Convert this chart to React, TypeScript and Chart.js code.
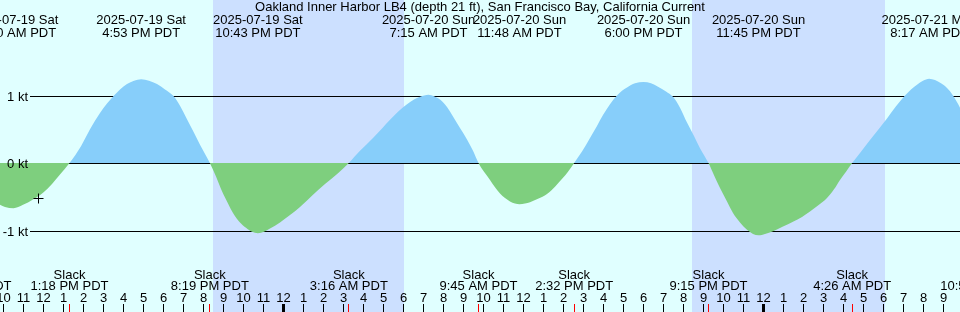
import React, { useEffect, useRef } from "react";
import { Chart, registerables } from "chart.js";

Chart.register(...registerables);

// ---------- data (hours since 2025-07-19 00:00 PDT) ----------
const TITLE =
  "Oakland Inner Harbor LB4 (depth 21 ft), San Francisco Bay, California Current";

const hours = [
  8.45, 9.075, 9.575, 9.825, 10.075, 10.5, 10.975, 11.475, 11.975, 12.425, 12.825,
  13.3, 13.875, 14.325, 14.825, 15.175, 15.525, 15.825, 16.175, 16.525, 16.883,
  17.275, 17.675, 18.075, 18.475, 18.825, 19.175, 19.525, 19.825, 20.317,
  20.625, 20.925, 21.225, 21.475, 21.825, 22.125, 22.425, 22.717, 23.025, 23.325,
  23.825, 24.325, 24.825, 25.475, 26.075, 26.725, 27.267,
  27.825, 28.475, 28.925, 29.325, 29.725, 30.175, 30.525, 30.825, 31.25, 31.525,
  31.825, 32.175, 32.475, 32.825, 33.175, 33.475, 33.75,
  34.025, 34.325, 34.575, 34.825, 35.075, 35.325, 35.575, 35.8, 36.075, 36.325,
  36.725, 37.175, 37.575, 37.975, 38.225, 38.533,
  38.925, 39.325, 39.675, 39.975, 40.325, 40.675, 40.925, 41.175, 41.575, 42.0,
  42.375, 42.725, 43.125, 43.475, 43.825, 44.175, 44.525, 44.825, 45.25,
  45.525, 45.825, 46.175, 46.475, 46.825, 47.175, 47.475, 47.75, 48.075, 48.475,
  48.975, 49.475, 49.925, 50.325, 50.725, 51.175, 51.525, 51.825, 52.125, 52.433,
  52.825, 53.325, 53.725, 54.175, 54.625, 55.075, 55.375, 55.675, 55.975, 56.283,
  56.575, 56.875, 57.175, 57.475, 57.825, 58.325, 58.97,
];
const knots = [
  0, -0.35, -0.57, -0.62, -0.65, -0.67, -0.62, -0.54, -0.44, -0.31, -0.17,
  0, 0.25, 0.5, 0.74, 0.88, 1.0, 1.09, 1.17, 1.22, 1.24,
  1.22, 1.17, 1.09, 1.0, 0.85, 0.65, 0.45, 0.27, 0,
  -0.2, -0.42, -0.6, -0.74, -0.88, -0.96, -1.02, -1.04, -1.02, -0.97,
  -0.88, -0.77, -0.65, -0.47, -0.31, -0.15, 0,
  0.18, 0.37, 0.51, 0.64, 0.76, 0.87, 0.94, 0.98, 1.01, 0.99,
  0.94, 0.83, 0.69, 0.52, 0.35, 0.18, 0,
  -0.13, -0.25, -0.36, -0.45, -0.52, -0.57, -0.6, -0.61, -0.6, -0.58,
  -0.53, -0.46, -0.35, -0.22, -0.13, 0,
  0.17, 0.37, 0.55, 0.71, 0.87, 1.0, 1.07, 1.12, 1.18, 1.2,
  1.18, 1.13, 1.06, 0.98, 0.82, 0.6, 0.4, 0.22, 0,
  -0.18, -0.37, -0.57, -0.74, -0.88, -0.99, -1.05, -1.07, -1.05, -1.01,
  -0.94, -0.87, -0.8, -0.72, -0.63, -0.52, -0.39, -0.25, -0.13, 0,
  0.15, 0.34, 0.49, 0.66, 0.84, 1.0, 1.09, 1.16, 1.22, 1.25,
  1.23, 1.18, 1.11, 1.0, 0.82, 0.5, 0,
];

const extremeHours = [10.5, 16.883, 22.717, 31.25, 35.8, 42.0, 47.75, 56.283];
const extremeDates = [
  "2025-07-19 Sat", "2025-07-19 Sat", "2025-07-19 Sat", "2025-07-20 Sun",
  "2025-07-20 Sun", "2025-07-20 Sun", "2025-07-20 Sun", "2025-07-21 Mon",
];
const extremeTimes = [
  "10:30 AM PDT", "4:53 PM PDT", "10:43 PM PDT", "7:15 AM PDT",
  "11:48 AM PDT", "6:00 PM PDT", "11:45 PM PDT", "8:17 AM PDT",
];

const slackHours = [8.45, 13.3, 20.317, 27.267, 33.75, 38.533, 45.25, 52.433, 58.97];
const slackTimes = [
  "8:27 AM PDT", "1:18 PM PDT", "8:19 PM PDT", "3:16 AM PDT", "9:45 AM PDT",
  "2:32 PM PDT", "9:15 PM PDT", "4:26 AM PDT", "10:58 AM PDT",
];

const nightStarts = [20.49, 44.44];
const nightEnds = [30.025, 54.075];

const gridKnots = [1, 0, -1];
const gridLabels = ["1 kt", "0 kt", "-1 kt"];

const nowHours = [11.75];
const nowKnots = [-0.526];

const X_MIN = 9.825;
const X_MAX = 57.825;
const Y_MIN = -2.207407;
const Y_MAX = 2.414815;

// ---------- colours ----------
const DAY = "#e0ffff";
const NIGHT = "#cce0ff";
const FLOOD = "#87cefa";
const EBB = "#7ecf7e";
const FONT = '13px "Liberation Sans", Arial, sans-serif';

const tidePlugin = {
  id: "tideDecor",
  beforeDatasetsDraw(chart: any) {
    const { ctx, width, height } = chart;
    const xs = chart.scales.x;
    const ys = chart.scales.y;
    ctx.save();
    ctx.fillStyle = DAY;
    ctx.fillRect(0, 0, width, height);
    ctx.fillStyle = NIGHT;
    nightStarts.forEach((s, i) => {
      const a = Math.round(xs.getPixelForValue(s));
      const b = Math.round(xs.getPixelForValue(nightEnds[i]));
      ctx.fillRect(a, 0, b - a, height);
    });
    ctx.fillStyle = "#000";
    gridKnots.forEach((k) => {
      const y = Math.round(ys.getPixelForValue(k));
      ctx.fillRect(30, y, width - 30, 1);
    });
    ctx.restore();
  },
  afterDatasetsDraw(chart: any) {
    const { ctx, width, height } = chart;
    const xs = chart.scales.x;
    const ys = chart.scales.y;
    ctx.save();
    ctx.font = FONT;
    ctx.fillStyle = "#000";
    ctx.textBaseline = "alphabetic";

    // title
    ctx.textAlign = "center";
    ctx.fillText(TITLE, width / 2, 11);

    // max / min labels
    extremeHours.forEach((h, i) => {
      const x = xs.getPixelForValue(h);
      ctx.fillText(extremeDates[i], x, 24);
      ctx.fillText(extremeTimes[i], x, 37);
    });

    // speed labels
    ctx.textAlign = "right";
    gridKnots.forEach((k, i) => {
      const y = Math.round(ys.getPixelForValue(k));
      ctx.fillText(gridLabels[i], 28, y + 5);
    });

    // slack labels
    ctx.textAlign = "center";
    slackHours.forEach((h, i) => {
      const x = xs.getPixelForValue(h);
      ctx.fillText("Slack", x, 279);
      ctx.fillText(slackTimes[i], x, 290);
    });

    // hour ticks
    for (let h = Math.ceil(X_MIN); h <= X_MAX; h++) {
      const x = Math.floor(xs.getPixelForValue(h));
      const label = String(h % 12 === 0 ? 12 : h % 12);
      ctx.fillStyle = "#000";
      ctx.fillText(label, x + 0.5, 302);
      if (h % 24 === 0) ctx.fillRect(x - 1, 304, 3, height - 304);
      else ctx.fillRect(x, 304, 1, height - 304);
    }
    ctx.fillStyle = "#ff0000";
    slackHours.forEach((h) => {
      const x = Math.floor(xs.getPixelForValue(h));
      ctx.fillRect(x, 304, 1, height - 304);
    });
    ctx.restore();
  },
};

export default function App() {
  const ref = useRef<HTMLCanvasElement | null>(null);

  useEffect(() => {
    if (!ref.current) return;
    const chart = new Chart(ref.current, {
      type: "line",
      data: {
        datasets: [
          {
            label: "now",
            data: nowHours.map((h, i) => ({ x: h, y: nowKnots[i] })),
            showLine: false,
            fill: false,
            pointStyle: "cross",
            pointRadius: 5,
            pointBorderColor: "#000",
            pointBorderWidth: 1,
            borderColor: "#000",
            order: 0,
          } as any,
          {
            label: "current",
            data: hours.map((h, i) => ({ x: h, y: knots[i] })),
            fill: { target: "origin", above: FLOOD, below: EBB },
            borderColor: "rgba(0,0,0,0)",
            borderWidth: 0,
            pointRadius: 0,
            cubicInterpolationMode: "monotone",
            order: 1,
          } as any,
        ],
      },
      options: {
        responsive: false,
        animation: false,
        devicePixelRatio: 1,
        events: [],
        layout: { padding: 0, autoPadding: false },
        plugins: {
          legend: { display: false },
          tooltip: { enabled: false },
          title: { display: false },
        },
        scales: {
          x: { type: "linear", min: X_MIN, max: X_MAX, display: false },
          y: { type: "linear", min: Y_MIN, max: Y_MAX, display: false },
        },
      } as any,
      plugins: [tidePlugin],
    });
    return () => chart.destroy();
  }, []);

  return (
    <div style={{ position: "fixed", left: 0, top: 0, width: 960, height: 312 }}>
      <canvas ref={ref} width={960} height={312} style={{ display: "block" }} />
    </div>
  );
}
